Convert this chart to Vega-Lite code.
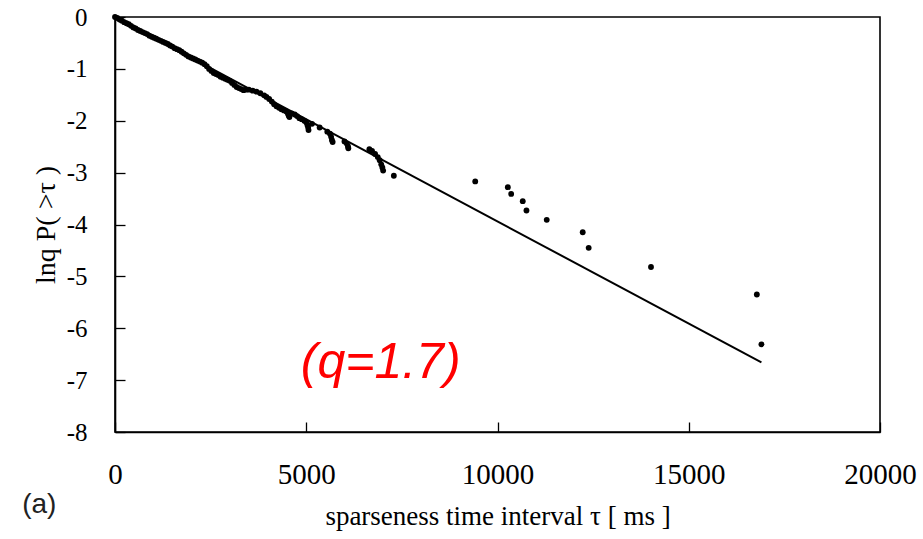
{
  "$schema": "https://vega.github.io/schema/vega-lite/v6.json",
  "width": 765,
  "height": 415,
  "autosize": "none",
  "padding": {"left": 115, "top": 17, "right": 43, "bottom": 107},
  "background": "white",
  "config": {
    "view": {"stroke": "black", "strokeWidth": 1.6},
    "axis": {"grid": false, "labelFlush": false, "labelOverlap": false, "domainColor": "black", "domainWidth": 1.6, "tickColor": "black", "tickWidth": 1.3, "labelColor": "black", "titleColor": "black", "labelFont": "Liberation Serif", "titleFont": "Liberation Serif", "titleFontWeight": "normal"}
  },
  "title": {"text": "(a)", "orient": "bottom", "anchor": "start", "frame": "bounds", "font": "Liberation Sans", "fontSize": 28, "fontWeight": "normal", "color": "#222", "offset": -38, "dx": -10},
  "datasets": {
    "pts": [
      {"tau": 0, "y": 0}, {"tau": 60, "y": -0.02}, {"tau": 120, "y": -0.05}, {"tau": 180, "y": -0.07}, {"tau": 240, "y": -0.1}, {"tau": 300, "y": -0.12},
      {"tau": 360, "y": -0.14}, {"tau": 420, "y": -0.17}, {"tau": 480, "y": -0.2}, {"tau": 540, "y": -0.22}, {"tau": 600, "y": -0.25}, {"tau": 660, "y": -0.27},
      {"tau": 720, "y": -0.29}, {"tau": 780, "y": -0.31}, {"tau": 840, "y": -0.33}, {"tau": 900, "y": -0.36}, {"tau": 960, "y": -0.38}, {"tau": 1020, "y": -0.4},
      {"tau": 1080, "y": -0.42}, {"tau": 1140, "y": -0.44}, {"tau": 1200, "y": -0.46}, {"tau": 1260, "y": -0.48}, {"tau": 1320, "y": -0.5}, {"tau": 1380, "y": -0.52},
      {"tau": 1440, "y": -0.55}, {"tau": 1500, "y": -0.57}, {"tau": 1560, "y": -0.6}, {"tau": 1620, "y": -0.62}, {"tau": 1680, "y": -0.64}, {"tau": 1740, "y": -0.67},
      {"tau": 1800, "y": -0.7}, {"tau": 1860, "y": -0.73}, {"tau": 1920, "y": -0.76}, {"tau": 1980, "y": -0.78}, {"tau": 2040, "y": -0.8}, {"tau": 2100, "y": -0.82},
      {"tau": 2160, "y": -0.84}, {"tau": 2220, "y": -0.86}, {"tau": 2280, "y": -0.88}, {"tau": 2340, "y": -0.91}, {"tau": 2400, "y": -0.95}, {"tau": 2460, "y": -1.0},
      {"tau": 2520, "y": -1.04}, {"tau": 2580, "y": -1.08}, {"tau": 2640, "y": -1.1}, {"tau": 2700, "y": -1.12}, {"tau": 2760, "y": -1.15}, {"tau": 2820, "y": -1.17},
      {"tau": 2880, "y": -1.19}, {"tau": 2940, "y": -1.21}, {"tau": 3000, "y": -1.23}, {"tau": 3060, "y": -1.27}, {"tau": 3120, "y": -1.31}, {"tau": 3180, "y": -1.35},
      {"tau": 3240, "y": -1.37}, {"tau": 3300, "y": -1.39}, {"tau": 3360, "y": -1.41}, {"tau": 3420, "y": -1.4}, {"tau": 3500, "y": -1.4}, {"tau": 3600, "y": -1.42},
      {"tau": 3700, "y": -1.44}, {"tau": 3800, "y": -1.47}, {"tau": 3900, "y": -1.51}, {"tau": 3960, "y": -1.54}, {"tau": 4030, "y": -1.58}, {"tau": 4100, "y": -1.63},
      {"tau": 4160, "y": -1.68}, {"tau": 4220, "y": -1.72}, {"tau": 4290, "y": -1.75}, {"tau": 4350, "y": -1.78}, {"tau": 4420, "y": -1.8}, {"tau": 4480, "y": -1.82},
      {"tau": 4520, "y": -1.86}, {"tau": 4540, "y": -1.9}, {"tau": 4560, "y": -1.93}, {"tau": 4620, "y": -1.86}, {"tau": 4700, "y": -1.88}, {"tau": 4760, "y": -1.91},
      {"tau": 4820, "y": -1.95}, {"tau": 4880, "y": -1.97}, {"tau": 4950, "y": -2.0}, {"tau": 5000, "y": -2.03}, {"tau": 5030, "y": -2.08}, {"tau": 5050, "y": -2.13},
      {"tau": 5060, "y": -2.18}, {"tau": 5150, "y": -2.06}, {"tau": 5350, "y": -2.13}, {"tau": 5550, "y": -2.21}, {"tau": 5620, "y": -2.25}, {"tau": 5650, "y": -2.31},
      {"tau": 5670, "y": -2.37}, {"tau": 5690, "y": -2.41}, {"tau": 6000, "y": -2.4}, {"tau": 6060, "y": -2.44}, {"tau": 6090, "y": -2.49}, {"tau": 6100, "y": -2.53},
      {"tau": 6650, "y": -2.55}, {"tau": 6720, "y": -2.58}, {"tau": 6800, "y": -2.64}, {"tau": 6870, "y": -2.7}, {"tau": 6920, "y": -2.76}, {"tau": 6960, "y": -2.84},
      {"tau": 6990, "y": -2.9}, {"tau": 7010, "y": -2.96}, {"tau": 7290, "y": -3.06},
      {"tau": 9418, "y": -3.17}, {"tau": 10270, "y": -3.28}, {"tau": 10357, "y": -3.41}, {"tau": 10660, "y": -3.55}, {"tau": 10757, "y": -3.73},
      {"tau": 11287, "y": -3.91}, {"tau": 12228, "y": -4.15}, {"tau": 12384, "y": -4.45}, {"tau": 14013, "y": -4.82}, {"tau": 16780, "y": -5.35}, {"tau": 16900, "y": -6.31}
    ],
    "fit": [{"tau": 0, "y": 0}, {"tau": 16900, "y": -6.66}],
    "lab": [{"tau": 6945, "y": -6.95, "label": "(q=1.7)"}]
  },
  "encoding": {
    "x": {"field": "tau", "type": "quantitative", "scale": {"domain": [0, 20000], "nice": false},
      "axis": {"values": [0, 5000, 10000, 15000, 20000], "format": "d", "tickSize": -10, "labelPadding": 38, "labelFontSize": 29, "title": "sparseness time interval τ [ ms ]", "titleFontSize": 27, "titlePadding": 14}},
    "y": {"field": "y", "type": "quantitative", "scale": {"domain": [-8, 0], "nice": false},
      "axis": {"values": [0, -1, -2, -3, -4, -5, -6, -7, -8], "labelExpr": "datum.value == 0 ? '0' : '-' + abs(datum.value)", "tickSize": -10, "labelPadding": 38, "labelFontSize": 25, "title": "lnq P( >τ )", "titleFontSize": 28, "titlePadding": 6}}
  },
  "layer": [
    {"data": {"name": "fit"}, "mark": {"type": "line", "color": "black", "strokeWidth": 2}},
    {"data": {"name": "pts"}, "mark": {"type": "point", "filled": true, "color": "black", "opacity": 1, "size": 34}},
    {"data": {"name": "lab"}, "mark": {"type": "text", "color": "#ff0000", "font": "Liberation Sans", "fontSize": 50, "fontStyle": "italic", "align": "center", "baseline": "alphabetic"},
      "encoding": {"text": {"field": "label"}}}
  ]
}
